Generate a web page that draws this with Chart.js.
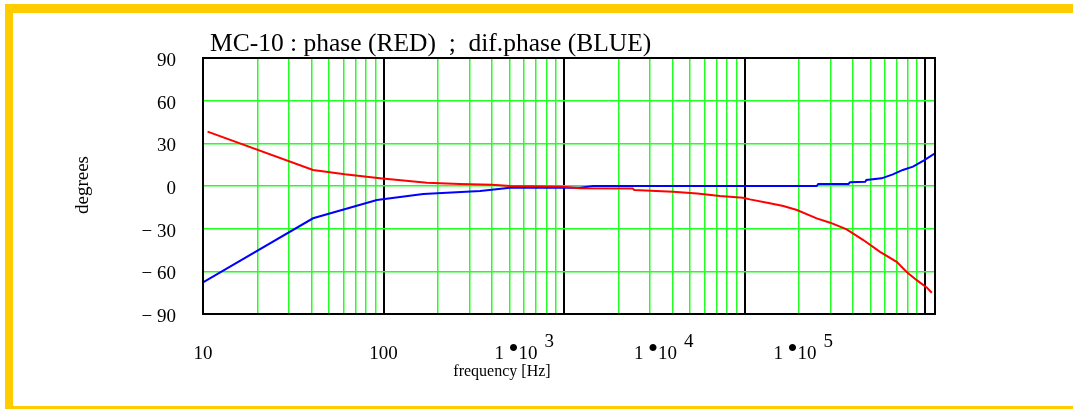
<!DOCTYPE html>
<html>
<head>
<meta charset="utf-8">
<title>MC-10 phase</title>
<script src="https://cdn.jsdelivr.net/npm/chart.js@4.4.1/dist/chart.umd.min.js"></script>
<style>
  body { margin: 0; background: #ffffff; }
  #chart-wrap { width: 1073px; height: 409px; }
</style>
</head>
<body>
<div id="chart-wrap"><canvas id="phaseChart" width="1073" height="409"></canvas></div>
<script>
// phase of MC-10 (red) and its differential phase (blue)
const redFreq = [10.6, 40.7, 61, 95.5, 174, 265, 400, 502, 987, 1227, 2400, 2450, 4020, 5460, 7310, 9810,
  10700, 13800, 16400, 19500, 25100, 29800, 36800, 45500, 56300, 69600, 79100, 89900, 102000, 109000];
const redPhase = [38.2, 11.3, 8.2, 5.4, 2.3, 1.4, 0.8, 0, -0.5, -1.6, -1.8, -2.8, -4, -5.2, -7, -8.2,
  -9.4, -12.2, -14.1, -16.9, -22.8, -25.8, -30.5, -38, -46.3, -53.3, -60.4, -66.2, -71.3, -75.1];

const blueFreq = [10, 40.7, 91.9, 166, 343, 502, 1000, 1227, 1450, 10000, 25100, 25600, 37600, 38400,
  46600, 47300, 57400, 66300, 75300, 85700, 98100, 113500];
const bluePhase = [-67.8, -22.7, -9.9, -5.6, -3.5, -1.2, -1.2, -1.2, 0, 0, 0, 1.4, 1.4, 2.6,
  3.0, 4.2, 5.4, 8.2, 11.3, 13.6, 17.8, 23];

// axes
const freqMin = 10;
const freqMax = 113500;
const decades = [10, 100, 1000, 10000, 100000];
const mantissas = [1, 2, 3, 4, 5, 6, 7, 8, 9];
const yTicks = [-90, -60, -30, 0, 30, 60, 90];
const yTickLabels = ['\u2212 90', '\u2212 60', '\u2212 30', '0', '30', '60', '90'];
const xLabelMain = ['10', '100', '10', '10', '10'];
const xLabelExp = ['', '', '3', '4', '5'];

const titleText = 'MC-10 : phase (RED)  ;  dif.phase (BLUE)';
const GREEN = '#22ff22';
const SERIF = '"Liberation Serif", "DejaVu Serif", serif';

function toPoints(xs, ys) {
  return xs.map((x, i) => ({ x: x, y: ys[i] }));
}

// grid tick values: every mantissa in every decade
const gridValues = [];
decades.forEach(d => {
  mantissas.forEach(m => {
    const v = d * m;
    if (v <= freqMax) gridValues.push(v);
  });
});

// frame, title and the labels Chart.js cannot typeset (1 . 10^n)
const decorPlugin = {
  id: 'decor',
  beforeDraw(chart) {
    const ctx = chart.ctx;
    ctx.save();
    ctx.fillStyle = '#ffcc00';
    ctx.fillRect(5, 4, 1068, 9);
    ctx.fillRect(5, 4, 8, 405);
    ctx.fillRect(5, 406, 1068, 3);
    ctx.restore();
  },
  afterDraw(chart) {
    const ctx = chart.ctx;
    const area = chart.chartArea;
    const xs = chart.scales.x;
    ctx.save();

    // plot box
    ctx.strokeStyle = '#000000';
    ctx.lineWidth = 2;
    ctx.strokeRect(area.left, area.top, area.right - area.left, area.bottom - area.top);

    ctx.fillStyle = '#000000';
    ctx.textBaseline = 'alphabetic';

    // title
    ctx.font = '25.5px ' + SERIF;
    ctx.textAlign = 'left';
    ctx.fillText(titleText, 210, 51);

    // x tick labels
    decades.forEach((d, i) => {
      const px = xs.getPixelForValue(d);
      ctx.font = '19px ' + SERIF;
      if (!xLabelExp[i]) {
        ctx.textAlign = 'center';
        ctx.fillText(xLabelMain[i], px, 359);
      } else {
        // Mathcad puts these further left the higher the decade
        const start = px - 69.5 - (i - 2) * 41;
        ctx.textAlign = 'left';
        ctx.fillText('1', start, 359);
        ctx.fillText(xLabelMain[i], start + 24, 359);
        ctx.fillText(xLabelExp[i], start + 50, 347);
        ctx.font = '30px ' + SERIF;
        ctx.textAlign = 'center';
        ctx.fillText('\u2022', start + 19, 358);
      }
    });

    // axis titles
    ctx.font = '16px ' + SERIF;
    ctx.textAlign = 'center';
    ctx.fillText('frequency [Hz]', 502, 376);

    ctx.translate(88, 185);
    ctx.rotate(-Math.PI / 2);
    ctx.font = '19px ' + SERIF;
    ctx.fillText('degrees', 0, 0);
    ctx.restore();
  }
};

const ctx = document.getElementById('phaseChart').getContext('2d');
new Chart(ctx, {
  type: 'line',
  data: {
    datasets: [
      {
        label: 'phase',
        data: toPoints(redFreq, redPhase),
        borderColor: '#ff0000',
        borderWidth: 2,
        pointRadius: 0,
        tension: 0,
        fill: false
      },
      {
        label: 'dif.phase',
        data: toPoints(blueFreq, bluePhase),
        borderColor: '#0000ff',
        borderWidth: 2,
        pointRadius: 0,
        tension: 0,
        fill: false
      }
    ]
  },
  options: {
    responsive: false,
    animation: false,
    devicePixelRatio: 1,
    layout: {
      padding: { left: 0, top: 58, right: 138, bottom: 95 }
    },
    plugins: {
      legend: { display: false },
      title: { display: false },
      tooltip: { enabled: false }
    },
    scales: {
      x: {
        type: 'logarithmic',
        min: freqMin,
        max: freqMax,
        afterBuildTicks: (scale) => {
          scale.ticks = gridValues.map(v => ({ value: v }));
        },
        afterFit: (scale) => { scale.height = 0; },
        ticks: { display: false, autoSkip: false },
        grid: {
          drawTicks: false,
          color: (c) => (decades.includes(c.tick.value) ? '#000000' : GREEN),
          lineWidth: (c) => (decades.includes(c.tick.value) ? 2 : 1.5)
        },
        border: { display: false }
      },
      y: {
        min: -90,
        max: 90,
        afterBuildTicks: (scale) => {
          scale.ticks = yTicks.map(v => ({ value: v }));
        },
        afterFit: (scale) => { scale.width = 203; },
        ticks: {
          padding: 27,
          labelOffset: 3,
          color: '#000000',
          font: { family: SERIF, size: 19 },
          callback: (value) => yTickLabels[yTicks.indexOf(value)]
        },
        grid: {
          drawTicks: false,
          color: GREEN,
          lineWidth: 1.5
        },
        border: { display: false }
      }
    }
  },
  plugins: [decorPlugin]
});
</script>
</body>
</html>
